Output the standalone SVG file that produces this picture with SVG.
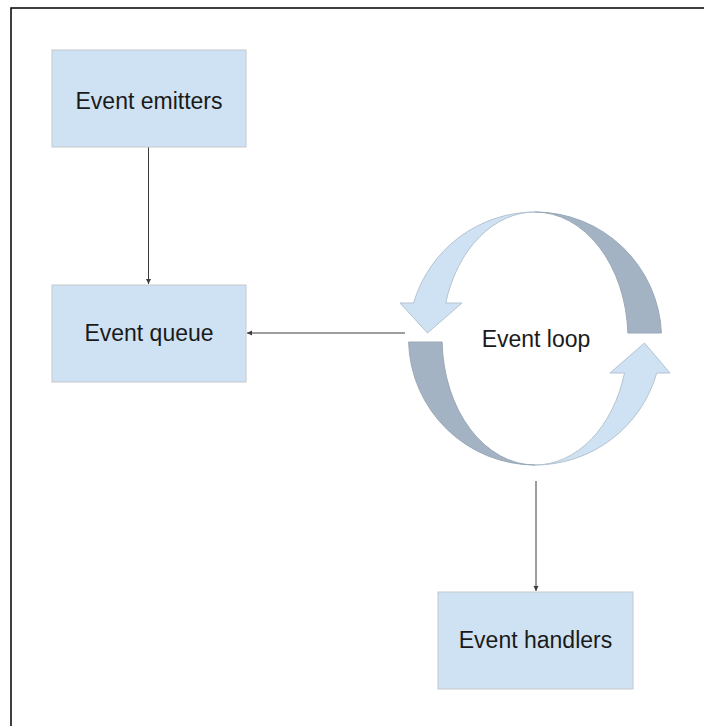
<svg xmlns="http://www.w3.org/2000/svg" width="704" height="726" viewBox="0 0 704 726">
<defs>
<style>
.box{fill:#cfe2f3;stroke:#c4c8cc;stroke-width:1}
.lbl{font-family:"Liberation Sans",Arial,sans-serif;font-size:23px;fill:#1a1a1a;text-anchor:middle}
.conn{stroke:#3c3c3c;stroke-width:1;fill:none}
.light{fill:#cfe2f3;stroke:#b4c3d1;stroke-width:1}
.dark{fill:#a3b3c3;stroke:#9aa9b8;stroke-width:1}
</style>
<marker id="ah" markerWidth="6" markerHeight="6" refX="5" refY="3" orient="auto" markerUnits="userSpaceOnUse">
<path d="M0,0.5 L5,3 L0,5.5 Z" fill="#3c3c3c"/>
</marker>
</defs>
<rect width="704" height="726" fill="#ffffff"/>
<path d="M11,726 V8 H704" fill="none" stroke="#000" stroke-width="1.5"/>
<g id="connectors">
<line class="conn" x1="148.5" y1="147" x2="148.5" y2="284" marker-end="url(#ah)"/>
<line class="conn" x1="405" y1="333" x2="247" y2="333" marker-end="url(#ah)"/>
<line class="conn" x1="536" y1="481" x2="536" y2="591" marker-end="url(#ah)"/>
</g>
<g id="event-emitters">
<rect class="box" x="52" y="50" width="194" height="97"/>
<text class="lbl" x="149" y="109">Event emitters</text>
</g>
<g id="event-queue">
<rect class="box" x="52" y="285" width="194" height="97"/>
<text class="lbl" x="149" y="341">Event queue</text>
</g>
<g id="event-handlers">
<rect class="box" x="438" y="592" width="195" height="97"/>
<text class="lbl" x="535.5" y="648">Event handlers</text>
</g>
<g id="event-loop">
<path class="dark" d="M535,212 A126.5,126.5 0 0 1 661.4,333 L627.9,333 A93,126.5 0 0 0 535,212 Z"/>
<path class="dark" d="M408.6,342 A126.5,126.5 0 0 0 535,465 A93,126.5 0 0 1 442.1,342 Z"/>
<path class="light" d="M535,212 A126.5,126.5 0 0 0 413.6,303 L400,303 L427.5,333 L462,303 L445.7,303 A93,126.5 0 0 1 535,212 Z"/>
<path class="light" d="M535,465 A126.5,126.5 0 0 0 656.7,373 L670,373 L644.5,343 L610,373 L624.5,373 A93,126.5 0 0 1 535,465 Z"/>
<text class="lbl" x="536" y="347">Event loop</text>
</g>
</svg>
